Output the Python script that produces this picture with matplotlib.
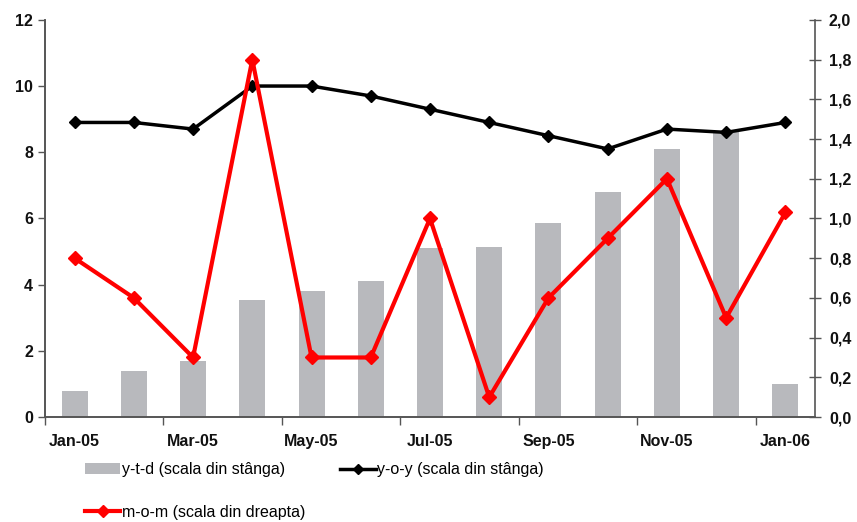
import matplotlib
matplotlib.use("Agg")
import matplotlib.pyplot as plt
import numpy as np
from matplotlib.ticker import FuncFormatter, FixedLocator
from matplotlib.patches import Patch
from matplotlib.lines import Line2D

plt.rcParams["font.family"] = ["Liberation Sans", "DejaVu Sans"]

months = ["Jan-05", "Feb-05", "Mar-05", "Apr-05", "May-05", "Jun-05", "Jul-05",
          "Aug-05", "Sep-05", "Oct-05", "Nov-05", "Dec-05", "Jan-06"]
ytd = [0.8, 1.4, 1.7, 3.55, 3.8, 4.1, 5.1, 5.15, 5.85, 6.8, 8.1, 8.6, 1.0]
yoy = [8.9, 8.9, 8.7, 10.0, 10.0, 9.7, 9.3, 8.9, 8.5, 8.1, 8.7, 8.6, 8.9]
mom = [0.8, 0.6, 0.3, 1.8, 0.3, 0.3, 1.0, 0.1, 0.6, 0.9, 1.2, 0.5, 1.03]

bar_color = "#b8b9bd"
x = np.arange(len(months))

fig = plt.figure(figsize=(8.57, 5.22), dpi=100)
ax = fig.add_axes([0.0525, 0.201, 0.8985, 0.761])

ax.bar(x, ytd, width=0.44, color=bar_color, zorder=1)
ax.plot(x, yoy, color="black", linewidth=2.5, marker="D", markersize=6, zorder=3)
ax.set_ylim(0, 12)
ax.set_xlim(-0.5, len(months) - 0.5)
ax.set_yticks(range(0, 13, 2))

# category labels every second month, tick marks between categories
ax.xaxis.set_major_locator(FixedLocator(x[::2]))
ax.set_xticklabels(months[::2])
ax.xaxis.set_minor_locator(FixedLocator(np.arange(-0.5, len(months) - 1, 2)))
ax.tick_params(axis="x", which="major", length=0, pad=12)
ax.tick_params(axis="x", which="minor", length=6, width=1, color="#555555")
ax.tick_params(axis="y", length=5, width=1, color="#555555", direction="out")

ax2 = ax.twinx()
ax2.plot(x, mom, color="#ff0000", linewidth=3, marker="D", markersize=7, zorder=4)
ax2.set_ylim(0, 2.0)
ax2.set_yticks(np.arange(0, 2.01, 0.2))
ax2.yaxis.set_major_formatter(FuncFormatter(lambda v, p: f"{v:.1f}".replace(".", ",")))
ax2.tick_params(axis="y", length=8, width=1, color="#555555", direction="inout", pad=6)

for a in (ax, ax2):
    a.spines["top"].set_visible(False)
    for s in ("left", "right", "bottom"):
        a.spines[s].set_color("#555555")
        a.spines[s].set_linewidth(1.2)
    for lbl in a.get_xticklabels() + a.get_yticklabels():
        lbl.set_fontsize(11.5)
        lbl.set_fontweight("bold")
        lbl.set_color("#111111")
ax.spines["right"].set_visible(False)

handles = [
    Patch(facecolor=bar_color, edgecolor="none"),
    Line2D([0], [0], color="#ff0000", linewidth=3, marker="D", markersize=6),
    Line2D([0], [0], color="black", linewidth=2.5, marker="D", markersize=5),
]
labels = ["y-t-d (scala din stânga)", "m-o-m (scala din dreapta)", "y-o-y (scala din stânga)"]
fig.legend(handles, labels, ncol=2, loc="upper left", bbox_to_anchor=(0.092, 0.127),
           frameon=False, prop={"size": 11.5}, handlelength=2.2, handletextpad=0.1,
           columnspacing=2.2, labelspacing=1.75, borderaxespad=0)

fig.savefig("out.png", dpi=100)
